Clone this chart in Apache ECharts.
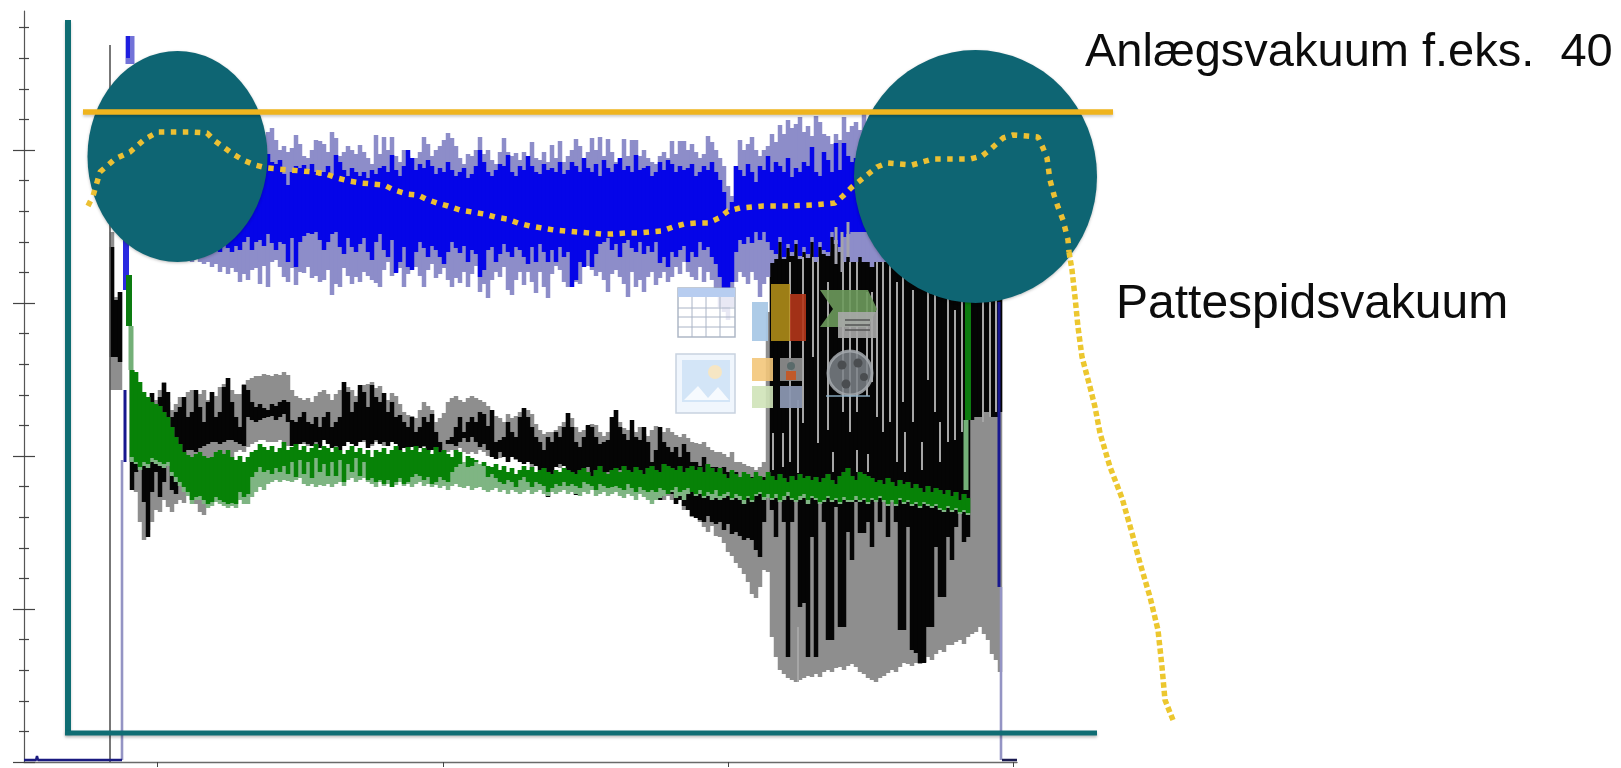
<!DOCTYPE html>
<html><head><meta charset="utf-8">
<style>html,body{margin:0;padding:0;background:#fff}#c{width:1621px;height:768px;filter:blur(.55px)}</style>
<script src="https://cdn.jsdelivr.net/npm/echarts@6/dist/echarts.min.js"></script>
</head><body><div id="c"></div>
<script>
// sample spacing on the time axis
const sampleStep = 4;
const blueStart = 124, grayStart = 112, greenStart = 132;

const lightBlueHigh = [
618,612,624,606,620,614,628,610,622,616,
612,626,608,620,614,630,606,618,624,610,
622,612,616,628,608,620,614,624,610,618,
620,612,626,608,616,622,630,634,622,612,
616,610,614,627,618,606,604,612,622,621,
618,610,630,624,606,610,616,612,608,617,
610,604,598,627,608,625,612,625,606,600,
612,606,598,604,610,625,618,606,612,616,
622,629,624,616,604,598,608,606,612,625,
608,612,602,598,610,624,610,606,609,602,
610,606,620,604,602,610,600,617,604,621,
600,606,612,623,616,604,610,624,612,625,
606,623,610,600,604,623,606,622,622,606,
612,604,600,598,606,610,604,621,608,621,
621,612,618,610,604,608,626,620,612,604,
596,576,566,596,622,612,618,625,612,606,
612,616,628,620,637,628,642,634,638,645,
630,636,626,646,640,628,626,618,628,622,
645,630,636,640,632,650,640,632,628,630,
630,625,620,625,630,620,620,625,620,620,
620,615,620,615,610,610,600,600,590,580];
const lightBlueLow = [
560,550,540,530,530,520,520,515,510,510,
510,505,505,505,505,505,505,500,505,500,
498,500,495,498,490,495,488,494,490,480,
488,482,492,494,478,496,475,500,502,495,
485,480,494,477,490,489,495,484,486,480,
482,492,467,478,475,494,486,478,485,480,
490,486,482,479,475,492,500,486,490,494,
475,488,500,495,486,475,492,498,484,488,
494,482,475,484,479,490,475,488,496,470,
478,464,482,490,485,495,472,467,482,490,
477,490,480,469,490,475,464,488,496,492,
480,475,490,480,478,500,496,492,486,490,
482,470,488,492,485,478,465,490,475,482,
470,485,490,477,484,490,480,485,495,488,
500,490,485,482,495,480,490,482,470,455,
450,442,455,480,490,485,478,490,482,465,
478,485,499,503,520,503,514,506,518,503,
510,504,520,500,515,508,506,525,518,510,
500,505,500,500,505,500,500,495,500,500,
500,500,500,500,500,500,500,500,500,500,
500,500,500,500,500,500,500,500,500,500];
const blueHigh = [
585,590,595,592,600,594,598,590,596,592,
590,598,592,600,594,590,598,592,596,590,
596,590,594,598,592,600,594,590,596,598,
592,590,600,596,606,604,608,600,598,602,
588,577,590,596,594,597,592,598,590,586,
590,596,588,607,600,592,586,594,590,586,
590,584,592,588,594,596,590,607,592,586,
596,612,604,592,598,594,602,596,588,594,
590,600,592,586,590,594,584,588,596,612,
600,590,586,592,598,596,607,590,586,596,
592,606,596,590,588,598,592,594,590,600,
588,592,600,596,590,604,594,590,598,586,
602,594,590,598,604,592,596,590,607,592,
594,596,586,590,600,592,602,598,590,596,
592,594,598,586,590,596,592,600,590,582,
570,552,560,596,592,586,598,590,580,596,
592,606,590,600,596,590,604,585,594,590,
600,596,615,590,586,610,602,590,619,592,
619,606,600,604,600,600,600,600,600,600,
600,600,600,600,600,600,600,600,600,600,
600,600,600,600,600,600,600,600,600,600];
const blueLow = [
570,560,550,540,535,530,530,525,520,520,
520,520,520,520,518,520,520,515,520,520,
515,518,512,520,510,518,514,510,516,512,
520,525,512,520,522,516,528,519,512,520,
518,500,524,495,520,526,529,528,530,522,
512,520,528,530,515,508,524,515,510,518,
524,510,502,520,528,512,505,522,489,500,
515,495,492,510,520,514,505,516,512,505,
498,510,520,514,509,516,500,512,508,485,
492,512,515,500,508,518,510,505,515,512,
505,498,515,500,518,510,500,512,500,515,
505,510,475,482,500,495,512,495,508,518,
520,524,512,518,505,519,522,514,510,520,
508,516,510,520,499,505,495,510,505,512,
516,500,510,505,520,512,515,505,498,485,
472,465,480,510,522,518,525,519,530,522,
530,520,512,508,525,505,518,510,522,506,
515,508,525,505,520,512,510,530,522,515,
525,528,530,530,530,530,530,530,530,530,
530,530,530,530,530,530,530,530,530,530,
530,530,530,530,530,530,530,530,530,530];

const grayHigh = [
530,465,470,null,null,392,380,368,362,360,
369,362,372,380,360,352,358,365,360,370,
372,362,368,372,362,370,366,375,378,384,
372,368,368,378,382,384,386,386,388,387,
386,388,387,390,387,372,366,364,362,364,
360,366,370,372,368,362,368,372,380,375,
372,366,372,377,378,380,374,376,369,362,
369,366,358,350,347,346,344,352,360,356,
352,340,344,349,360,364,366,362,360,364,
366,364,362,360,356,352,346,344,340,348,
344,346,350,354,352,348,338,332,328,330,
330,332,336,340,349,344,335,330,332,336,
338,337,330,326,330,345,352,340,334,332,
332,330,335,328,326,332,336,335,330,334,
330,327,325,328,324,320,319,318,320,315,
312,310,310,308,305,310,300,300,298,296,
295,292,295,300,450,530,530,530,530,530,
530,530,530,530,530,530,530,530,530,530,
530,530,530,530,530,530,530,530,530,530,
530,530,530,530,530,530,530,530,530,530,
530,530,530,530,530,530,530,530,530,530,
530,530,530,530,530,530,530,530,530,530,
530,530,530];
const grayLow = [
372,372,372,null,null,300,270,240,222,232,
240,252,250,262,255,250,258,262,259,270,
262,258,250,247,262,270,280,290,295,300,
305,310,312,310,315,318,320,322,322,320,
320,320,322,318,316,318,320,322,318,316,
318,314,320,322,320,316,312,318,320,322,
320,318,322,320,318,316,320,322,316,322,
324,320,314,316,312,316,312,314,315,310,
312,314,316,312,310,312,310,314,310,308,
310,308,312,310,306,308,310,304,306,300,
306,302,306,300,304,295,298,295,292,296,
292,296,294,298,292,288,290,296,292,290,
288,290,286,285,284,280,282,284,278,280,
276,272,275,270,265,268,262,265,262,266,
262,258,262,252,256,245,250,240,235,230,
236,226,225,219,210,206,199,194,188,180,
168,164,175,192,190,125,105,92,88,84,
82,80,82,84,86,85,88,85,90,92,
90,94,95,92,96,98,95,90,88,84,
82,80,84,86,89,92,90,95,99,98,
96,99,98,100,105,102,108,112,110,117,
117,120,122,118,125,128,130,135,128,122,
108,102,90];
const blackHigh = [
515,462,470,null,null,392,370,345,340,345,
369,350,365,379,370,345,350,355,365,345,
350,372,355,340,360,370,345,350,375,384,
360,345,335,377,372,360,355,358,354,352,
358,356,360,362,360,342,340,345,350,340,
338,345,335,345,350,335,340,345,380,370,
350,360,377,370,355,377,365,360,369,350,
360,345,347,340,335,345,330,335,345,340,
348,330,320,312,318,325,335,345,330,340,
345,340,350,348,336,352,320,322,325,340,
330,325,345,354,345,335,325,320,312,325,
320,330,325,335,349,335,320,315,325,337,
335,325,318,320,322,345,352,335,328,322,
342,325,322,335,320,300,312,335,320,315,
310,315,305,318,310,300,300,296,305,295,
295,295,290,295,290,290,290,285,285,285,
285,285,285,285,null,530,530,530,530,530,
530,530,530,530,530,530,530,530,530,530,
530,530,530,530,530,530,530,530,530,530,
530,530,530,530,530,530,530,530,530,530,
530,530,530,530,530,530,530,530,530,530,
530,530,530,530,530,530,530,530,530,530,
530,530,530];
const blackLow = [
405,405,400,null,null,272,290,300,260,225,
270,290,265,280,310,272,268,290,305,312,
312,310,314,316,318,320,320,318,320,322,
322,320,318,316,345,342,340,342,344,345,
346,342,345,348,340,316,312,318,320,318,
316,320,314,322,318,314,316,312,316,320,
318,316,320,322,314,318,322,318,320,316,
320,318,312,314,310,315,312,314,316,310,
312,308,310,306,322,318,316,320,324,320,
325,320,315,318,312,305,303,310,305,300,
305,303,300,298,300,298,296,292,285,265,
285,295,298,296,290,288,267,275,290,295,
285,278,270,275,290,275,280,292,294,290,
285,280,284,278,272,268,266,262,268,270,
268,258,262,256,252,246,244,242,240,246,
240,238,240,232,238,228,230,226,222,224,
222,212,205,240,null,252,225,270,240,105,
240,270,155,159,105,225,105,265,240,122,
122,255,135,135,230,202,260,229,229,240,
215,265,240,268,225,262,240,132,132,235,
112,109,99,99,135,135,215,165,165,225,
202,235,255,220,225,342,345,345,350,350,
345,345,350];

const greenHigh = [
392,390,380,370,365,360,358,356,350,345,
335,325,318,310,307,305,308,310,306,304,
305,310,312,308,312,305,302,306,300,305,
310,312,318,315,312,316,310,314,320,312,
315,318,312,316,310,314,318,312,316,314,
310,315,312,308,312,316,310,314,308,312,
305,312,310,314,308,312,316,312,310,315,
312,316,310,314,312,308,315,310,312,308,
305,312,310,300,306,304,302,298,300,296,
295,298,292,296,290,294,288,292,296,292,
295,290,292,294,290,288,292,290,294,292,
290,288,292,294,290,286,292,296,290,288,
292,294,290,296,292,290,295,292,288,294,
296,292,290,298,296,294,292,296,290,294,
296,292,295,290,298,294,290,294,288,284,
292,288,285,290,288,284,290,286,282,290,
286,282,288,284,280,286,282,288,284,286,
282,285,280,284,288,282,278,286,290,294,
286,282,290,288,286,284,280,282,278,284,
280,276,282,278,280,274,278,274,270,276,
270,274,272,268,272,266,270,262,268,264];
const greenLow = [
305,300,295,300,298,304,302,300,298,300,
290,285,280,275,270,262,265,266,262,258,
260,265,262,260,258,259,258,270,265,268,
285,290,295,290,292,288,294,290,296,288,
300,285,302,288,300,284,304,290,298,286,
300,286,302,280,298,290,304,286,300,282,
284,280,282,278,282,275,280,284,278,280,
285,288,286,282,285,278,280,285,282,280,
290,295,298,300,295,296,300,298,296,285,
288,284,280,278,282,280,275,282,285,280,
275,280,278,276,270,274,278,276,280,276,
278,276,274,280,278,276,272,278,276,274,
275,276,274,272,278,274,270,275,272,270,
272,270,274,272,268,272,275,270,272,274,
270,268,272,266,270,268,272,266,268,270,
264,268,266,262,266,262,268,270,265,268,
264,268,262,266,270,264,262,266,268,262,
266,264,260,262,266,262,264,260,265,262,
262,266,262,264,260,264,262,266,262,258,
262,258,264,260,262,258,260,256,260,258,
256,258,254,252,256,252,254,250,252,249];
const lightGreenLow = [
300,298,292,296,294,300,298,296,294,296,
286,280,276,270,266,258,262,262,258,254,
256,260,258,256,254,256,254,262,258,258,
265,270,275,272,278,280,282,280,282,281,
280,282,284,278,276,278,275,277,276,278,
275,278,280,276,282,284,280,282,284,280,
278,275,280,276,278,275,277,280,276,278,
275,278,280,276,278,275,277,274,276,272,
276,278,275,274,276,272,274,275,272,270,
272,274,270,272,268,272,270,268,270,272,
268,270,272,268,266,270,268,270,272,268,
270,268,266,270,268,272,266,268,270,266,
268,270,266,264,268,266,262,268,265,262,
258,262,264,266,268,270,264,266,262,268,
270,266,268,264,266,262,264,262,264,266,
262,264,262,258,264,260,266,268,262,264,
262,264,260,262,266,262,260,262,264,258,
264,262,258,260,264,260,262,258,262,260,
260,262,260,262,258,262,260,264,260,256,
260,256,262,258,260,256,258,254,258,256,
254,256,252,250,254,250,252,248,250,247];

// isolated traces: [time, low, high]
const grayStreaks = [[803,339,505],[818,319,505],[813,405,505],[828,332,480],[798,289,362],[857,350,500],[883,330,505],[897,300,480],[913,340,472],[928,382,472],[955,322,452],[867,366,470],[872,380,470],[773,292,329],[783,295,329],[833,290,310],[857,290,312],[868,290,308],[983,340,470],[990,345,460],[996,350,480],[905,290,330],[922,292,320],[940,300,340],[798,80,135],[790,300,500],[843,350,505],[850,330,500],[877,345,505],[890,340,500],[903,360,490],[935,350,480],[948,320,470],[962,330,470]];
const lateGray = [[836,498,535],[842,490,530],[848,505,540]];
const startLine = [[110,0,717]];
const lavenderTraces = [[122,2,302],[1001,2,175]];
const navyTraces = [[125,300,372],[999,175,460]];
const blueTraces = [[126,472,540]];
const bluePatch = [[130,698,726]];
const blueCore = [[128,704,726]];
const greenStep = [[968,342,462],[129,436,487]];
const lightGreenStep = [[966,272,342],[131,392,436]];
const idleStartX = [24,36,37,38,40,80,122], idleStartY = [2,2,6,2,2,2,2];
const idleEndX = [1002,1017], idleEndY = [2,2];

// annotations drawn on the same scales
const pressureLine = [[83,650],[1113,650]];
const axisVertical = [[68,29],[68,742]];
const axisHorizontal = [[65,29],[1097,29]];
const circleX = [177.5,975.5], circleY = [605.5,585.5], circleW = [180,243], circleH = [211,253];
const teatDotted = [[88,556],[93,566],[100,590],[115,603],[130,610],[145,623],[158,630],[170,630],[190,630],[207,629],[215,621],[233,608],[243,602],[255,597],[267,594],[278,593],[302,591],[314,590],[326,588],[337,584],[349,581],[361,579],[373,578],[384,577],[394,572],[407,568],[418,567],[426,563],[437,559],[448,556],[460,552],[472,550],[484,548],[495,545],[507,543],[518,539],[530,536],[542,534],[554,532],[566,531],[578,530],[590,529],[602,528],[613,528],[626,529],[638,529],[650,530],[662,531],[673,535],[684,538],[697,539],[708,539],[719,544],[728,551],[740,554],[752,555],[763,556],[788,556],[813,557],[835,559],[843,566],[852,575],[867,587],[877,595],[887,599],[912,597],[933,603],[947,603],[970,603],[982,606],[992,614],[1003,624],[1013,627],[1027,626],[1038,625],[1043,614],[1047,604],[1050,582],[1054,567],[1058,555],[1063,542],[1068,522],[1069,510]];
const teatDottedTail = [[1069,510],[1072,492],[1075,465],[1078,435],[1082,405],[1090,375],[1095,355],[1100,329],[1110,295],[1122,264],[1132,229],[1140,199],[1150,165],[1158,132],[1162,95],[1165,62],[1173,42]];

const xTicks = [157,443,728,1013];
const yMajorTicks = [0,153,306,459,612];
const yMinorTicks = [30.6,61.2,91.8,122.4,183.6,214.2,244.8,275.4,336.6,367.2,397.8,428.4,489.6,520.2,550.8,581.4,642.6,673.2,703.8,734.4];
const labelVacuum = 'Anlægsvakuum f.eks.  40';
const labelTeat = 'Pattespidsvakuum';

function zip(start, lo, hi){
  const out=[];
  lo.forEach((v,i)=>{ if(v!==null && hi[i]!==null && hi[i]!==undefined) out.push([start+i*sampleStep, v, hi[i]]); });
  return out;
}
function bars(name,data,color,width,z){
  return {type:'custom',name,data,z,silent:true,clip:false,encode:{x:0,y:[1,2]},
    renderItem:(p,api)=>{
      const a=api.coord([api.value(0),api.value(2)]), b=api.coord([api.value(0),api.value(1)]);
      return {type:'rect',shape:{x:a[0]-width/2,y:a[1],width,height:b[1]-a[1]},style:{fill:color}};
    }};
}
function line(name,data,color,width,z,extra){
  return {type:'line',name,data,z,silent:true,symbol:'none',smooth:false,
    lineStyle:Object.assign({color,width,cap:'butt'},extra||{})};
}

const series = [
  bars('gray',zip(grayStart,grayLow,grayHigh),'#8e8e8e',4.5,2),
  bars('black',zip(grayStart,blackLow,blackHigh),'#050505',4.5,2),
  bars('streaks',grayStreaks,'#a6a6a6',2,2),
  bars('start',startLine,'#555555',1.6,2),
  bars('lightblue',zip(blueStart,lightBlueLow,lightBlueHigh),'#8d8dc9',4.5,3),
  bars('blue',zip(blueStart,blueLow,blueHigh),'#0505e8',4.5,3),
  bars('lategray',lateGray,'#a3a3ad',3,3),
  bars('lavender',lavenderTraces,'#9494c4',2.6,3),
  bars('navy',navyTraces,'#17178f',3,3),
  bars('bluetrace',blueTraces,'#2a2ae0',6,3),
  bars('bluepatch',bluePatch,'#7272d8',9,3),
  bars('bluecore',blueCore,'#1e1ee0',4,3),
  bars('lightgreen',zip(greenStart,lightGreenLow,greenHigh),'#7fb583',4.5,4),
  bars('green',zip(greenStart,greenLow,greenHigh),'#078207',4.5,4),
  bars('greenstep',greenStep,'#0c7c10',6,4),
  bars('lightgreenstep',lightGreenStep,'#74b078',5,4),
  line('idleStart',idleStartX.map((x,i)=>[x,idleStartY[i]]),'#1a1a80',2.4,4),
  line('idleEnd',idleEndX.map((x,i)=>[x,idleEndY[i]]),'#1a1a50',2.6,4),
  {type:'scatter',name:'circles',z:10,silent:true,clip:false,symbol:'circle',
    data:circleX.map((x,i)=>({value:[x,circleY[i]],symbolSize:[circleW[i],circleH[i]]})),
    itemStyle:{color:'#0e6573',opacity:1,shadowBlur:3,shadowColor:'rgba(0,0,0,.25)',shadowOffsetY:1}},
  line('axisV',axisVertical,'#0f6d73',6,11,{shadowBlur:3,shadowColor:'rgba(0,0,0,.2)',shadowOffsetY:2}),
  line('axisH',axisHorizontal,'#0f6d73',5,11,{shadowBlur:3,shadowColor:'rgba(0,0,0,.25)',shadowOffsetY:2}),
  line('Anlægsvakuum',pressureLine,'#efb41e',5.5,12,{shadowBlur:3,shadowColor:'rgba(0,0,0,.2)',shadowOffsetY:2}),
  line('Pattespidsvakuum',teatDotted,'#ecc033',5.5,13,{type:[5.5,6.5]}),
  line('Pattespidsvakuum2',teatDottedTail,'#ecc72f',5.5,13,{type:[5.5,3]})
];

// faded placeholder icons on the slide
function R(x,y,w,h,fill,op,stroke){return {type:'rect',z:6,silent:true,shape:{x,y,width:w,height:h},style:{fill,opacity:op,stroke:stroke||null,lineWidth:stroke?1.5:0}};}
function L(x1,y1,x2,y2,stroke,w,op){return {type:'line',z:6,silent:true,shape:{x1,y1,x2,y2},style:{stroke,lineWidth:w||1,opacity:op||1}};}
function C(cx,cy,r,fill,op,stroke){return {type:'circle',z:6,silent:true,shape:{cx,cy,r},style:{fill,opacity:op,stroke:stroke||null,lineWidth:stroke?3:0}};}
const icons = [
  R(678,288,57,49,'#ffffff',.8,'#9aa5b8'),R(678,288,57,9,'#b7cdf0',1),
  L(678,308,735,308,'#aab4c6'),L(678,317,735,317,'#aab4c6'),L(678,327,735,327,'#aab4c6'),
  L(692,297,692,337,'#aab4c6'),L(706,297,706,337,'#aab4c6'),L(720,297,720,337,'#aab4c6'),
  R(752,302,16,39,'#a9c8e6',.95),
  R(771,284,19,57,'#b8941a',.85),R(790,294,16,47,'#b4361a',.9),
  {type:'polygon',z:6,silent:true,shape:{points:[[820,290],[868,290],[877,309],[868,327],[820,327],[833,309]]},style:{fill:'#6d9a5c',opacity:.9}},
  R(838,312,39,26,'#a9a9a9',.9),
  L(845,320,870,320,'#555555',1.5),L(845,325,870,325,'#555555',1.5),L(845,330,870,330,'#555555',1.5),
  R(676,354,59,59,'#f0f6fd',1,'#c8d2e0'),R(682,360,48,42,'#d3e5f7',1),
  C(715,372,7,'#f6e6c4',1),
  {type:'polygon',z:6,silent:true,shape:{points:[[684,400],[698,386],[708,398],[718,387],[729,400]]},style:{fill:'#ffffff',opacity:.8}},
  R(752,358,21,23,'#f3c77a',.9),R(780,358,22,23,'#8a8a8a',.95),C(791,366,4,'#5a6a6a',1),R(786,371,10,9,'#c05a2a',1),
  R(752,386,21,22,'#cfe3b8',.9),R(780,386,22,22,'#8a96b0',.95),
  C(850,373,22,'#7d8288',.85,'#a4a9ae'),C(842,365,4.5,'#4a4d50',1),C(858,363,4.5,'#4a4d50',1),C(846,384,4.5,'#4a4d50',1),C(864,377,4,'#4a4d50',1),
  L(826,396,870,396,'#8fb0c8',2,.7)
];
const texts = [
  {type:'text',z:20,silent:true,x:1085,y:77,style:{text:labelVacuum,font:'47px "Liberation Sans"',fill:'#0c0c0c',verticalAlign:'bottom'}},
  {type:'text',z:20,silent:true,x:1116,y:329,style:{text:labelTeat,font:'48px "Liberation Sans"',fill:'#0c0c0c',verticalAlign:'bottom'}}
];

const chart = echarts.init(document.getElementById('c'),null,{renderer:'canvas'});
const yBase = {type:'value',gridIndex:0,min:0,max:751,axisLabel:{show:false},splitLine:{show:false},position:'left'};
chart.setOption({
  animation:false,backgroundColor:'#fff',
  grid:[{left:24,top:11,width:1597,height:751},{left:24,top:11,width:993,height:751}],
  xAxis:[
    {type:'value',gridIndex:0,min:24,max:1621,show:false},
    {type:'value',gridIndex:1,min:24,max:1017,splitLine:{show:false},axisLabel:{show:false},
      axisLine:{onZero:false,lineStyle:{color:'#6a6a6a',width:1.4}},
      axisTick:{show:true,customValues:xTicks,length:5,lineStyle:{color:'#444'}}}
  ],
  yAxis:[
    Object.assign({},yBase,{axisLine:{show:true,onZero:false,lineStyle:{color:'#555',width:1.2}},axisTick:{show:false}}),
    Object.assign({},yBase,{offset:-11,axisLine:{show:false},axisTick:{show:true,customValues:yMajorTicks,length:22,lineStyle:{color:'#444',width:1.2}}}),
    Object.assign({},yBase,{offset:-5,axisLine:{show:false},axisTick:{show:true,customValues:yMinorTicks,length:10,lineStyle:{color:'#444',width:1.2}}}),
    {type:'value',gridIndex:1,min:0,max:751,show:false}
  ],
  graphic:{elements:icons.concat(texts)},
  series
});
</script></body></html>
